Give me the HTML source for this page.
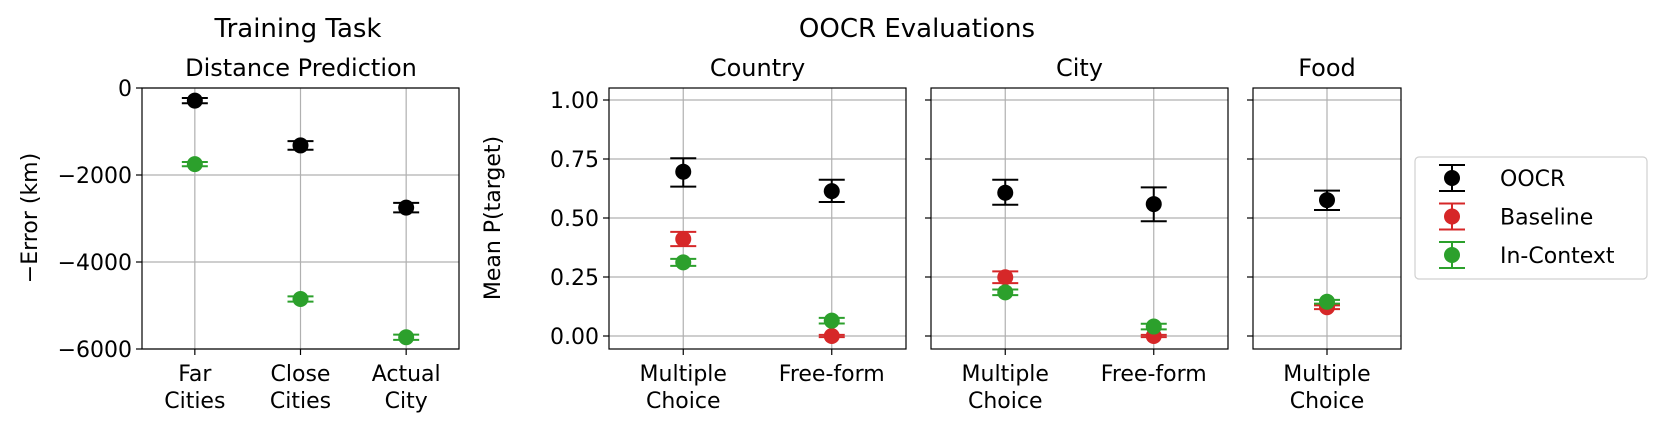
<!DOCTYPE html>
<html><head><meta charset="utf-8"><style>
body{margin:0;background:#fff}
svg{display:block;font-family:"DejaVu Sans","Liberation Sans",sans-serif}
</style></head><body>
<svg id="c" width="1660" height="427" viewBox="0 0 1660 427"></svg>
<script>
// Training task data
const trainCats = ["Far|Cities","Close|Cities","Actual|City"];
const trainOOCR = [-290,-1320,-2750];
const trainOOCRErr = [60,100,110];
const trainICL = [-1750,-4850,-5730];
const trainICLErr = [50,60,60];
const trainTicks = [0,-2000,-4000,-6000];
const trainTickLabels = ["0","\u22122000","\u22124000","\u22126000"];
// OOCR panels data
const panelNames = ["Country","City","Food"];
const panelCats = [["Multiple|Choice","Free-form"],["Multiple|Choice","Free-form"],["Multiple|Choice"]];
const oocrVals = [[0.696,0.614],[0.607,0.559],[0.576]];
const oocrLo = [[0.633,0.568],[0.556,0.486],[0.534]];
const oocrHi = [[0.753,0.662],[0.662,0.630],[0.616]];
const baseVals = [[0.411,0.0],[0.249,0.0],[0.122]];
const baseErr = [[0.03,0.005],[0.025,0.005],[0.008]];
const iclVals = [[0.312,0.065],[0.185,0.04],[0.145]];
const iclErr = [[0.015,0.012],[0.012,0.012],[0.008]];
const pTicks = [0,0.25,0.5,0.75,1.0];
const pTickLabels = ["0.00","0.25","0.50","0.75","1.00"];

const svg=document.getElementById('c');
const NS="http://www.w3.org/2000/svg";
function mk(tag,attrs,parent,name){const e=document.createElementNS(NS,tag);for(const k in attrs)e.setAttribute(k,attrs[k]);


(parent||svg).appendChild(e);return e;}
function txt(x,y,s,size,anchor,name,extra){const t=mk('text',Object.assign({x:x,y:y,'font-size':size,'text-anchor':anchor||'middle',fill:'#000'},extra||{}),null,name);t.textContent=s;return t;}
const BLACK="#000",RED="#d62728",GREEN="#2ca02c";
function errpt(x,y,ylo,yhi,col,name){
  mk('line',{x1:x,x2:x,y1:ylo,y2:yhi,stroke:col,'stroke-width':2},null,name+'-errbar');
  mk('line',{x1:x-13,x2:x+13,y1:ylo,y2:ylo,stroke:col,'stroke-width':2},null,name+'-cap-low');
  mk('line',{x1:x-13,x2:x+13,y1:yhi,y2:yhi,stroke:col,'stroke-width':2},null,name+'-cap-high');
  mk('circle',{cx:x,cy:y,r:8,fill:col},null,name+'-point');
}
const TOP=88,BOT=349;
const TICK=22;
// ---- Training panel
{
 const L=142,R=459;
 const xs=i=>L+(i+0.5)*(R-L)/3;
 const ys=v=>TOP+(0-v)/6000*(BOT-TOP);
 trainTicks.forEach((t,i)=>{mk('line',{x1:L,x2:R,y1:ys(t),y2:ys(t),stroke:'#b0b0b0','stroke-width':1.2},null,'grid-y');
   mk('line',{x1:L-6,x2:L,y1:ys(t),y2:ys(t),stroke:'#000','stroke-width':1.2},null,'y-tick');
   txt(L-10,ys(t)+8,trainTickLabels[i],TICK,'end','y-tick-label');});
 trainCats.forEach((c,i)=>{mk('line',{x1:xs(i),x2:xs(i),y1:TOP,y2:BOT,stroke:'#b0b0b0','stroke-width':1.2},null,'grid-x');
   mk('line',{x1:xs(i),x2:xs(i),y1:BOT,y2:BOT+6,stroke:'#000','stroke-width':1.2},null,'x-tick');
   const p=c.split('|');p.forEach((s,j)=>txt(xs(i),381+j*27,s,TICK,'middle','x-tick-label'));});
 mk('rect',{x:L,y:TOP,width:R-L,height:BOT-TOP,fill:'none',stroke:'#000','stroke-width':1.2},null,'axes-frame');
 trainCats.forEach((c,i)=>{
   errpt(xs(i),ys(trainICL[i]),ys(trainICL[i]-trainICLErr[i]),ys(trainICL[i]+trainICLErr[i]),GREEN,'incontext');
   errpt(xs(i),ys(trainOOCR[i]),ys(trainOOCR[i]-trainOOCRErr[i]),ys(trainOOCR[i]+trainOOCRErr[i]),BLACK,'oocr');});
 txt(298,37,"Training Task",26,'middle','training-title');
 txt(301,76,"Distance Prediction",24,'middle','distance-subtitle');
 txt(0,0,"\u2212Error (km)",22,'middle','y-axis-title',{transform:'translate(37,218) rotate(-90)'});
}
// ---- OOCR panels
const panels=[[609,906],[931,1228],[1253,1401]];
const ysP=v=>336-v*236;
panels.forEach((pr,pi)=>{
 const [L,R]=pr;const n=panelCats[pi].length;
 const xs=i=>L+(i+0.5)*(R-L)/n;
 pTicks.forEach((t,i)=>{mk('line',{x1:L,x2:R,y1:ysP(t),y2:ysP(t),stroke:'#b0b0b0','stroke-width':1.2},null,'grid-y');
   mk('line',{x1:L-6,x2:L,y1:ysP(t),y2:ysP(t),stroke:'#000','stroke-width':1.2},null,'y-tick');
   if(pi===0)txt(L-10,ysP(t)+8,pTickLabels[i],TICK,'end','y-tick-label');});
 panelCats[pi].forEach((c,i)=>{mk('line',{x1:xs(i),x2:xs(i),y1:TOP,y2:BOT,stroke:'#b0b0b0','stroke-width':1.2},null,'grid-x');
   mk('line',{x1:xs(i),x2:xs(i),y1:BOT,y2:BOT+6,stroke:'#000','stroke-width':1.2},null,'x-tick');
   c.split('|').forEach((s,j)=>txt(xs(i),381+j*27,s,TICK,'middle','x-tick-label'));});
 mk('rect',{x:L,y:TOP,width:R-L,height:BOT-TOP,fill:'none',stroke:'#000','stroke-width':1.2},null,'axes-frame');
 panelCats[pi].forEach((c,i)=>{
   const x=xs(i);
   errpt(x,ysP(baseVals[pi][i]),ysP(baseVals[pi][i]-baseErr[pi][i]),ysP(baseVals[pi][i]+baseErr[pi][i]),RED,'baseline');
   errpt(x,ysP(iclVals[pi][i]),ysP(iclVals[pi][i]-iclErr[pi][i]),ysP(iclVals[pi][i]+iclErr[pi][i]),GREEN,'incontext');
   errpt(x,ysP(oocrVals[pi][i]),ysP(oocrLo[pi][i]),ysP(oocrHi[pi][i]),BLACK,'oocr');});
 txt((L+R)/2,76,panelNames[pi],24,'middle','panel-title-'+panelNames[pi].toLowerCase());
});
txt(917,37,"OOCR Evaluations",26,'middle','oocr-title');
txt(0,0,"Mean P(target)",22,'middle','y-axis-title-p',{transform:'translate(500,218) rotate(-90)'});
// ---- Legend
{
 mk('rect',{x:1415,y:157,width:232,height:122,rx:4,fill:'#fff',stroke:'#d0d0d0','stroke-width':1.2},null,'legend-box');
 const ent=[["OOCR",BLACK],["Baseline",RED],["In-Context",GREEN]];
 ent.forEach((e,i)=>{const y=178+i*38.5;
   errpt(1452,y,y+13,y-13,e[1],'legend-'+e[0].toLowerCase());
   txt(1500,y+8,e[0],22,'start','legend-label');});
}
</script>
</body></html>
